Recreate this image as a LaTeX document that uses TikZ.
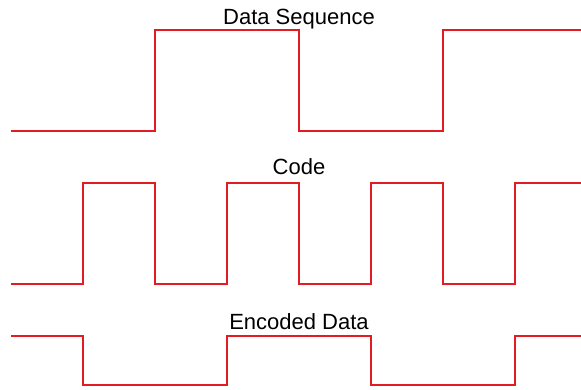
\documentclass[tikz,border=0pt]{standalone}
\usepackage{fontspec}
\setmainfont{Liberation Sans}
\definecolor{wave}{RGB}{226,28,34}
\begin{document}
\begin{tikzpicture}[x=1pt,y=-1pt,
  signal/.style={draw=wave,line width=1.5pt,line join=miter},
  caption/.style={font=\fontsize{22}{25}\selectfont,inner sep=0pt,anchor=base}]
\useasboundingbox (0,0) rectangle (581,390);
% data sequence: 0 1 0 1
\draw[signal] (11,131) -- (155,131) -- (155,30) -- (299,30) -- (299,131)
  -- (443,131) -- (443,30) -- (581,30);
\node[caption] (data) at (299,25) {Data Sequence};
% spreading code
\draw[signal] (11,284) -- (83,284) -- (83,183) -- (155,183) -- (155,284)
  -- (227,284) -- (227,183) -- (299,183) -- (299,284)
  -- (371,284) -- (371,183) -- (443,183) -- (443,284)
  -- (515,284) -- (515,183) -- (581,183);
\node[caption] (code) at (299,175) {Code};
% encoded output
\draw[signal] (11,336) -- (83,336) -- (83,385) -- (227,385) -- (227,336)
  -- (371,336) -- (371,385) -- (515,385) -- (515,336) -- (581,336);
\node[caption] (enc) at (299,329) {Encoded Data};
\end{tikzpicture}
\end{document}
